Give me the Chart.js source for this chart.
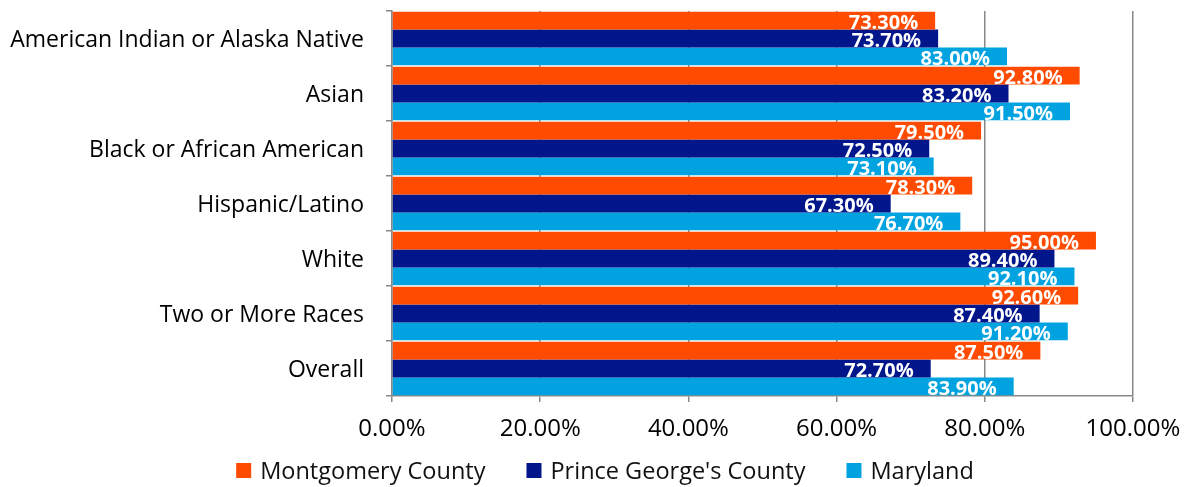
<!DOCTYPE html>
<html>
<head>
<meta charset="utf-8">
<script src="https://cdn.jsdelivr.net/npm/chart.js@4/dist/chart.umd.min.js"></script>
<style>
  html, body { margin: 0; padding: 0; background: #fff; }
  canvas { display: block; }
</style>
</head>
<body>
<canvas id="chart" width="1189" height="487"></canvas>
<script>
// Graduation rate by race/ethnicity
const categories = [
  'American Indian or Alaska Native',
  'Asian',
  'Black or African American',
  'Hispanic/Latino',
  'White',
  'Two or More Races',
  'Overall'
];
const seriesNames = ['Montgomery County', "Prince George's County", 'Maryland'];
const montgomery    = [73.3, 92.8, 79.5, 78.3, 95.0, 92.6, 87.5];
const princeGeorges = [73.7, 83.2, 72.5, 67.3, 89.4, 87.4, 72.7];
const maryland      = [83.0, 91.5, 73.1, 76.7, 92.1, 91.2, 83.9];
const xTicks = [0, 20, 40, 60, 80, 100];

const colors = ['#FF4B00', '#00168A', '#00A3E0'];
const FONT = '"Open Sans", "DejaVu Sans", sans-serif';
const GRID = '#888888';

const pct = v => v.toFixed(2) + '%';

// White bold value labels placed just inside the end of each bar
const valueLabels = {
  id: 'valueLabels',
  afterDatasetsDraw(chart) {
    const ctx = chart.ctx;
    ctx.save();
    ctx.font = 'bold 20px ' + FONT;
    ctx.fillStyle = '#ffffff';
    ctx.textAlign = 'right';
    ctx.textBaseline = 'middle';
    chart.data.datasets.forEach((ds, di) => {
      const meta = chart.getDatasetMeta(di);
      meta.data.forEach((bar, i) => {
        ctx.fillText(pct(ds.data[i]), bar.x - 17, bar.y + 3);
      });
    });
    ctx.restore();
  }
};

// Legend row under the axis: square swatch + series name
const bottomLegend = {
  id: 'bottomLegend',
  afterDraw(chart) {
    const ctx = chart.ctx;
    ctx.save();
    ctx.font = '23.5px ' + FONT;
    ctx.textBaseline = 'middle';
    ctx.textAlign = 'left';
    const box = 15, gapText = 9, gapItem = 41, cy = 470.5;
    const items = chart.data.datasets.map(ds => ({
      label: ds.label, color: ds.backgroundColor, w: ctx.measureText(ds.label).width
    }));
    const total = items.reduce((s, it) => s + box + gapText + it.w, 0) + gapItem * (items.length - 1);
    let x = 605 - total / 2;
    items.forEach(it => {
      ctx.fillStyle = it.color;
      ctx.fillRect(x, cy - box / 2, box, box);
      ctx.fillStyle = '#111';
      ctx.fillText(it.label, x + box + gapText, cy + 1.5);
      x += box + gapText + it.w + gapItem;
    });
    ctx.restore();
  }
};

const seriesData = [montgomery, princeGeorges, maryland];

new Chart(document.getElementById('chart'), {
  type: 'bar',
  data: {
    labels: categories,
    datasets: seriesNames.map((name, i) => ({
      label: name,
      data: seriesData[i],
      backgroundColor: colors[i],
      borderWidth: 0,
      categoryPercentage: 0.975,
      barPercentage: 1
    }))
  },
  options: {
    indexAxis: 'y',
    responsive: false,
    animation: false,
    devicePixelRatio: 1,
    layout: { padding: { left: 0, right: 56, top: 11, bottom: 0 } },
    plugins: {
      legend: { display: false },
      tooltip: { enabled: false }
    },
    scales: {
      x: {
        min: 0,
        max: 100,
        afterBuildTicks(scale) {
          scale.ticks = xTicks.map(v => ({ value: v }));
        },
        afterFit(scale) {
          scale.height = 91;
          scale.paddingLeft = 0;
          scale.paddingRight = 0;
        },
        ticks: {
          callback: v => pct(v),
          font: { family: FONT, size: 24 },
          color: '#000',
          padding: 13,
          maxRotation: 0
        },
        grid: { color: GRID, lineWidth: 1.5, tickLength: 6, drawTicks: true },
        border: { color: GRID, width: 1.5 }
      },
      y: {
        afterFit(scale) {
          scale.width = 392;
          scale.paddingTop = 0;
          scale.paddingBottom = 0;
        },
        ticks: {
          font: { family: FONT, size: 23 },
          color: '#000',
          padding: 22,
          labelOffset: 2
        },
        grid: { drawOnChartArea: false, color: GRID, lineWidth: 1.5, tickLength: 6, offset: true },
        border: { color: GRID, width: 1.5 }
      }
    }
  },
  plugins: [valueLabels, bottomLegend]
});
</script>
</body>
</html>
